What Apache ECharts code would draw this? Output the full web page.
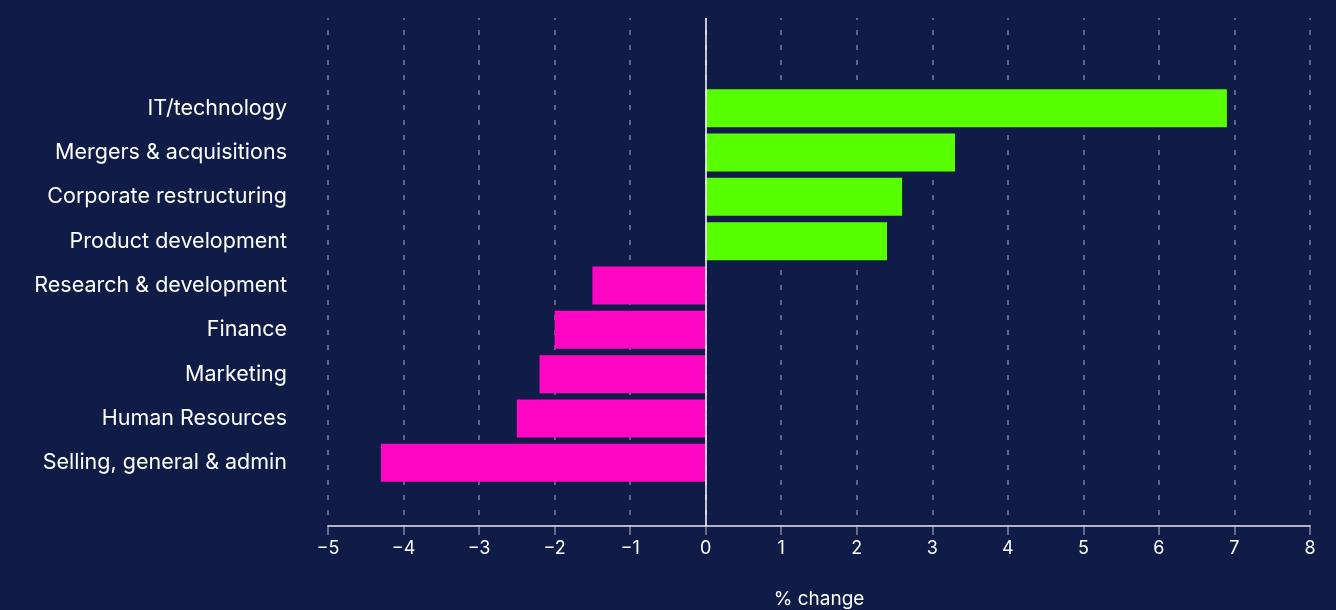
<!DOCTYPE html>
<html><head><meta charset="utf-8">
<script src="https://cdn.jsdelivr.net/npm/echarts@6/dist/echarts.min.js"></script>
<style>html,body{margin:0;padding:0;background:#101c48;}#c{width:1336px;height:610px;}</style>
</head><body><div id="c"></div>
<script>
const categories = ["IT/technology","Mergers & acquisitions","Corporate restructuring","Product development","Research & development","Finance","Marketing","Human Resources","Selling, general & admin"];
const values = [6.9, 3.3, 2.6, 2.4, -1.5, -2.0, -2.2, -2.5, -4.3];
const xTicks = [-5,-4,-3,-2,-1,0,1,2,3,4,5,6,7,8];
const xTitle = "% change";

const font = "Inter, 'Noto Sans', sans-serif";
const xMin = xTicks[0], xMax = xTicks[xTicks.length-1];
const chart = echarts.init(document.getElementById('c'));
chart.setOption({
  backgroundColor: '#101c48',
  animation: false,
  grid: [
    {left: 328, right: 26, top: 18, bottom: 84, outerBoundsMode: 'none', containLabel: false},
    {left: 328, right: 26, top: 86, bottom: 125, outerBoundsMode: 'none', containLabel: false}
  ],
  xAxis: [{
    gridIndex: 0, type: 'value', min: xMin, max: xMax, interval: 1,
    name: xTitle, nameLocation: 'middle', nameGap: 64,
    nameTextStyle: {color: '#ffffff', fontSize: 19, fontFamily: font},
    axisLine: {show: true, onZero: false, lineStyle: {color: '#e6e8ee', width: 1.5}},
    axisTick: {show: true, length: 9, lineStyle: {color: 'rgba(200,205,220,0.6)', width: 1.5}},
    axisLabel: {color: '#ffffff', fontSize: 18, fontFamily: font, margin: 14,
      formatter: v => v < 0 ? '\u2212' + Math.abs(v) : String(v)},
    splitLine: {show: true, lineStyle: {color: 'rgba(200,205,220,0.55)', width: 1.5, type: [5,10], dashOffset: 3}}
  }, {
    gridIndex: 1, type: 'value', min: xMin, max: xMax, interval: 1, show: false,
    splitLine: {show: false}
  }],
  yAxis: [{
    gridIndex: 0, type: 'value', show: false, splitLine: {show: false}
  }, {
    gridIndex: 1, type: 'category', inverse: true, data: categories,
    axisLine: {show: false}, axisTick: {show: false}, splitLine: {show: false},
    axisLabel: {color: '#ffffff', fontSize: 21.5, fontFamily: font, margin: 41}
  }],
  series: [{
    type: 'bar', xAxisIndex: 1, yAxisIndex: 1, barWidth: 38,
    data: values,
    itemStyle: {color: p => p.value >= 0 ? '#58ff00' : '#ff05c4'}
  }, {
    type: 'line', xAxisIndex: 0, yAxisIndex: 0, data: [],
    markLine: {silent: true, symbol: 'none', label: {show: false},
      lineStyle: {color: '#ffffff', width: 1.5, type: 'solid'},
      data: [{xAxis: 0}]}
  }]
});
</script></body></html>
